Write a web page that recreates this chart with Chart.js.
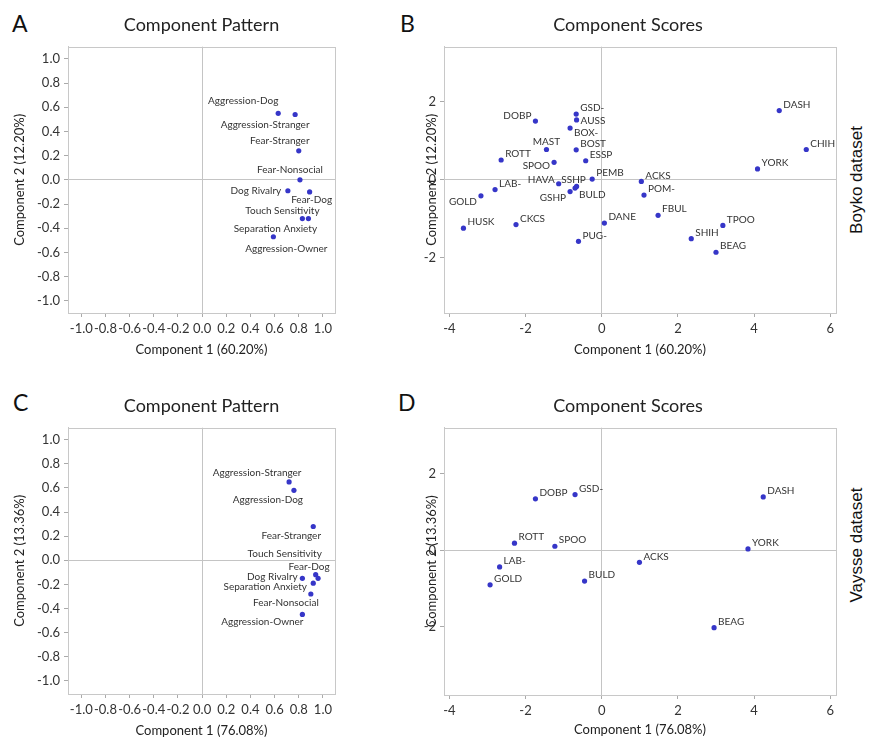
<!DOCTYPE html>
<html>
<head>
<meta charset="utf-8">
<script src="https://cdn.jsdelivr.net/npm/chart.js@4.4.1/dist/chart.umd.min.js"></script>
<style>
  body { margin: 0; background: #fff; width: 872px; height: 750px; position: relative; overflow: hidden; font-family: Lato, sans-serif; }
  .panel { position: absolute; }
  .letter { position: absolute; font-family: Lato, sans-serif; font-size: 23px; line-height: 1; color: #111; }
  .side { position: absolute; width: 200px; height: 20px; line-height: 20px; text-align: center; font-family: "Liberation Sans", Arial, sans-serif; font-size: 17px; color: #111; transform: rotate(-90deg); white-space: nowrap; }
</style>
</head>
<body>
<div class="letter" style="left:12px;top:12px">A</div>
<div class="letter" style="left:400px;top:12px">B</div>
<div class="letter" style="left:13px;top:391px">C</div>
<div class="letter" style="left:398px;top:391px">D</div>
<div class="side" style="left:757px;top:170px">Boyko dataset</div>
<div class="side" style="left:757px;top:535px">Vaysse dataset</div>

<div class="panel" style="left:0;top:0"><canvas id="chartA" width="345" height="370"></canvas></div>
<div class="panel" style="left:420px;top:0"><canvas id="chartB" width="430" height="370"></canvas></div>
<div class="panel" style="left:0;top:381px"><canvas id="chartC" width="345" height="370"></canvas></div>
<div class="panel" style="left:420px;top:381px"><canvas id="chartD" width="430" height="369"></canvas></div>

<script>
// behaviour traits (loadings)
const traits = ["Aggression-Dog", "Aggression-Stranger", "Fear-Stranger", "Fear-Nonsocial", "Dog Rivalry",
  "Fear-Dog", "Touch Sensitivity", "Separation Anxiety", "Aggression-Owner"]
const boykoLoad1 = [0.63, 0.77, 0.80, 0.81, 0.71, 0.89, 0.88, 0.83, 0.59]
const boykoLoad2 = [0.55, 0.54, 0.24, 0.00, -0.09, -0.10, -0.32, -0.32, -0.47]
const vaysseLoad1 = [0.76, 0.72, 0.92, 0.90, 0.83, 0.96, 0.94, 0.92, 0.83]
const vaysseLoad2 = [0.58, 0.65, 0.28, -0.28, -0.15, -0.15, -0.12, -0.19, -0.45]

// breeds (scores)
const boykoBreeds = ["GSD-", "AUSS", "DOBP", "BOX-", "MAST", "BOST", "ROTT", "ESSP", "SPOO", "PEMB",
  "HAVA", "SSHP", "BULD", "GSHP", "LAB-", "GOLD", "HUSK", "CKCS", "DANE", "PUG-",
  "DASH", "CHIH", "YORK", "ACKS", "POM-", "FBUL", "TPOO", "SHIH", "BEAG"]
const boykoScore1 = [-0.67, -0.66, -1.74, -0.83, -1.45, -0.67, -2.64, -0.42, -1.25, -0.25,
  -1.13, -0.66, -0.70, -0.83, -2.80, -3.17, -3.63, -2.25, 0.07, -0.61,
  4.66, 5.37, 4.09, 1.04, 1.11, 1.48, 3.18, 2.35, 3.00]
const boykoScore2 = [1.69, 1.54, 1.51, 1.33, 0.78, 0.77, 0.51, 0.49, 0.45, 0.02,
  -0.10, -0.17, -0.21, -0.30, -0.25, -0.41, -1.24, -1.15, -1.11, -1.58,
  1.78, 0.78, 0.28, -0.04, -0.39, -0.91, -1.17, -1.51, -1.86]
const vaysseBreeds = ["DOBP", "GSD-", "DASH", "ROTT", "SPOO", "YORK", "LAB-", "ACKS", "GOLD", "BULD", "BEAG"]
const vaysseScore1 = [-1.74, -0.70, 4.24, -2.29, -1.23, 3.84, -2.68, 0.99, -2.93, -0.45, 2.95]
const vaysseScore2 = [1.35, 1.46, 1.40, 0.19, 0.11, 0.04, -0.43, -0.31, -0.90, -0.80, -2.02]

// tick labels
const patternTicks = [-1.0, -0.8, -0.6, -0.4, -0.2, 0.0, 0.2, 0.4, 0.6, 0.8, 1.0]
const scoreTicksX = [-4, -2, 0, 2, 4, 6]
const scoreTicksY = [-2, 0, 2]

const DOT = "#3636c8"
const ZERO = "#c4c4c4"
const FRAME = "#c8c8c8"
const TEXT = "#333"

// label placement: [align, dx, dy] relative to the point
const placeA = {
  "Aggression-Dog": ["center", -35, -12], "Aggression-Stranger": ["center", -30, 10],
  "Fear-Stranger": ["center", -19, -10], "Fear-Nonsocial": ["center", -10, -10],
  "Dog Rivalry": ["center", -32, 0], "Fear-Dog": ["center", 2, 8],
  "Touch Sensitivity": ["center", -26, -8], "Separation Anxiety": ["center", -27, 10],
  "Aggression-Owner": ["center", 13, 12]
}
const placeC = {
  "Aggression-Stranger": ["center", -32, -9], "Aggression-Dog": ["center", -26, 9],
  "Fear-Stranger": ["center", -22, 9], "Touch Sensitivity": ["center", -31, -21],
  "Fear-Dog": ["center", -9, -12], "Dog Rivalry": ["center", -30, -2],
  "Separation Anxiety": ["center", -48, 4], "Fear-Nonsocial": ["center", -25, 9],
  "Aggression-Owner": ["center", -40, 7]
}
const placeB = {
  "DOBP": ["right", -4, -5], "MAST": ["center", 0, -8], "SPOO": ["right", -4, 3],
  "HAVA": ["right", -4, -4], "SSHP": ["center", -3, -7], "BULD": ["left", 4, 7],
  "GSHP": ["right", -4, 6], "GOLD": ["right", -4, 6], "AUSS": ["left", 4, 1], "BOX-": ["left", 4, 5]
}
const placeDefault = ["left", 4, -6]

const frame = {
  id: "frame",
  beforeDatasetsDraw(chart) {
    const { ctx, chartArea: a } = chart
    ctx.save()
    ctx.strokeStyle = FRAME
    ctx.lineWidth = 1
    ctx.strokeRect(Math.round(a.left) + 0.5, Math.round(a.top) + 0.5, Math.round(a.right - a.left), Math.round(a.bottom - a.top))
    ctx.restore()
  }
}

const pointLabels = {
  id: "pointLabels",
  afterDatasetsDraw(chart, args, opts) {
    const { ctx } = chart
    const meta = chart.getDatasetMeta(0)
    ctx.save()
    ctx.font = "10px Lato"
    ctx.fillStyle = TEXT
    ctx.textBaseline = "middle"
    meta.data.forEach((pt, i) => {
      const name = opts.names[i]
      const [align, dx, dy] = opts.place[name] || placeDefault
      ctx.textAlign = align
      ctx.fillText(name, pt.x + dx, pt.y + dy)
    })
    ctx.restore()
  }
}

function axis(min, max, ticks, title, size, titlePad, fmt) {
  return {
    type: "linear",
    min, max,
    afterBuildTicks: s => { s.ticks = ticks.map(v => ({ value: v })) },
    afterFit: s => { if (s.isHorizontal()) s.height = size; else s.width = size },
    grid: {
      color: c => (c.tick && c.tick.value === 0 ? ZERO : "transparent"),
      tickColor: "#aaa",
      tickLength: 4
    },
    border: { display: true, color: FRAME },
    ticks: { color: TEXT, font: { family: "Lato", size: 13 }, padding: 4, autoSkip: false, maxRotation: 0, callback: fmt },
    title: { display: true, text: title, color: "#222", font: { family: "Lato", size: 13 }, padding: titlePad }
  }
}

function panel(id, cfg) {
  return new Chart(document.getElementById(id), {
    type: "scatter",
    data: {
      datasets: [{
        data: cfg.xs.map((x, i) => ({ x, y: cfg.ys[i] })),
        pointRadius: 2.6,
        pointHoverRadius: 2.6,
        pointBackgroundColor: DOT,
        pointBorderWidth: 0
      }]
    },
    options: {
      responsive: false,
      animation: false,
      events: [],
      layout: { padding: cfg.pad },
      plugins: {
        legend: { display: false },
        tooltip: { enabled: false },
        title: {
          display: true, text: cfg.title, fullSize: cfg.fullTitle, color: "#222",
          font: { family: "Lato", size: 18, weight: "normal" }, padding: { top: 14, bottom: 11.1 }
        },
        pointLabels: { names: cfg.names, place: cfg.place }
      },
      scales: { x: cfg.x, y: cfg.y }
    },
    plugins: [frame, pointLabels]
  })
}

const fmt1 = v => v.toFixed(1)
const fmt0 = v => String(v)

panel("chartA", {
  title: "Component Pattern", fullTitle: false, names: traits, place: placeA,
  xs: boykoLoad1, ys: boykoLoad2, pad: { left: 0, right: 10, top: 0, bottom: 0 },
  x: axis(-1.11, 1.10, patternTicks, "Component 1 (60.20%)", 57, { top: 0, bottom: 12 }, fmt1),
  y: axis(-1.1, 1.1, patternTicks, "Component 2 (12.20%)", 68, { top: 12, bottom: 0 }, fmt1)
})
panel("chartB", {
  title: "Component Scores", fullTitle: true, names: boykoBreeds, place: placeB,
  xs: boykoScore1, ys: boykoScore2, pad: { left: 0, right: 14, top: 0, bottom: 0 },
  x: axis(-4.14, 6.15, scoreTicksX, "Component 1 (60.20%)", 57, { top: 0, bottom: 12 }, fmt0),
  y: axis(-3.42, 3.42, scoreTicksY, "Component 2 (12.20%)", 24, { top: 4, bottom: 0 }, fmt0)
})
panel("chartC", {
  title: "Component Pattern", fullTitle: false, names: traits, place: placeC,
  xs: vaysseLoad1, ys: vaysseLoad2, pad: { left: 0, right: 10, top: 0, bottom: 0 },
  x: axis(-1.11, 1.10, patternTicks, "Component 1 (76.08%)", 57, { top: 0, bottom: 12 }, fmt1),
  y: axis(-1.11, 1.10, patternTicks, "Component 2 (13.36%)", 68, { top: 12, bottom: 0 }, fmt1)
})
panel("chartD", {
  title: "Component Scores", fullTitle: true, names: vaysseBreeds, place: {},
  xs: vaysseScore1, ys: vaysseScore2, pad: { left: 0, right: 14, top: 0, bottom: 0 },
  x: axis(-4.14, 6.15, scoreTicksX, "Component 1 (76.08%)", 55, { top: 0, bottom: 12 }, fmt0),
  y: axis(-3.78, 3.21, scoreTicksY, "Component 2 (13.36%)", 24, { top: 4, bottom: 0 }, fmt0)
})
</script>
</body>
</html>
